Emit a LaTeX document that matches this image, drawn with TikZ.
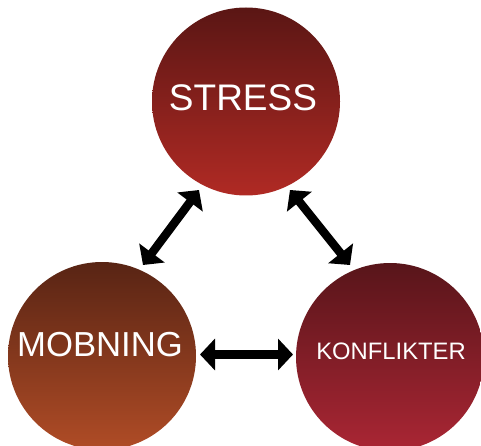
\documentclass[tikz,border=0pt]{standalone}
\usepackage{fontspec}
\setmainfont{Liberation Sans}
\usetikzlibrary{arrows.meta}
\definecolor{stA}{HTML}{5A1614}
\definecolor{stB}{HTML}{B02A24}
\definecolor{moA}{HTML}{582414}
\definecolor{moB}{HTML}{B04C26}
\definecolor{koA}{HTML}{58151A}
\definecolor{koB}{HTML}{AA2634}
\begin{document}
\begin{tikzpicture}[x=1pt,y=-1pt,
  ball/.style={circle,inner sep=0pt,minimum size=188pt,draw=none},
  lbl/.style={text=white,inner sep=0pt},
  link/.style={line width=8.5pt,{Triangle[length=15pt,width=31pt]}-{Triangle[length=15pt,width=31pt]}}]
\useasboundingbox (0,0) rectangle (481,446);
\node[ball,top color=stA,bottom color=stB] (stress) at (246,101.5) {};
\node[ball,top color=moA,bottom color=moB] (mobning) at (102,356) {};
\node[ball,top color=koA,bottom color=koB] (konflikter) at (390,357) {};
\node[lbl,font=\fontsize{37}{37}\selectfont] (tstress) at (243,98) {STRESS};
\node[lbl,font=\fontsize{34.7}{35}\selectfont] (tmobning) at (100,345) {MOBNING};
\node[lbl,font=\fontsize{23.8}{24}\selectfont] (tkonflikter) at (391,351) {KONFLIKTER};
\coordinate (sm1) at (199,190);
\coordinate (sm2) at (143,265);
\coordinate (sk1) at (290,190);
\coordinate (sk2) at (350,265);
\coordinate (mk1) at (200,354.5);
\coordinate (mk2) at (293,354.5);
\draw[link] (sm1) -- (sm2);
\draw[link] (sk1) -- (sk2);
\draw[link] (mk1) -- (mk2);
\end{tikzpicture}
\end{document}
